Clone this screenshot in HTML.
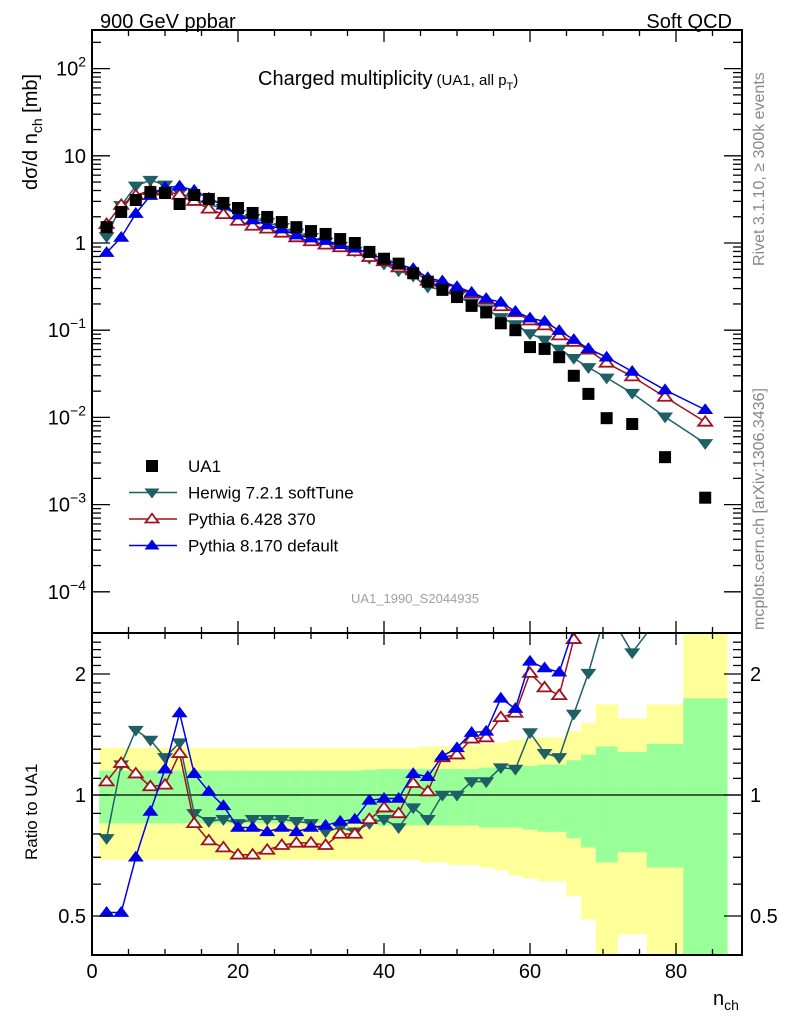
<!DOCTYPE html>
<html><head><meta charset="utf-8"><style>
html,body{margin:0;padding:0;background:#fff;width:786px;height:1024px;overflow:hidden;}
svg{display:block;font-family:"Liberation Sans",sans-serif;}
</style></head><body>
<svg id="chart" width="786" height="1024" viewBox="0 0 786 1024" xmlns="http://www.w3.org/2000/svg">
<defs>
<clipPath id="cm"><rect x="92" y="30" width="650" height="603"/></clipPath>
<clipPath id="cr"><rect x="92" y="633" width="650" height="322"/></clipPath>
</defs>
<text x="100" y="28" font-size="20">900 GeV ppbar</text>
<text x="732" y="28" font-size="20" text-anchor="end">Soft QCD</text>
<text x="258" y="85" font-size="20">Charged multiplicity<tspan font-size="15" dx="4">(UA1, all p</tspan><tspan font-size="11" dy="5">T</tspan><tspan font-size="15" dy="-5">)</tspan></text>
<text x="415" y="603" font-size="13" fill="#a0a0a0" text-anchor="middle">UA1_1990_S2044935</text>
<text transform="translate(764,266) rotate(-90)" font-size="16" fill="#888">Rivet 3.1.10, ≥ 300k events</text>
<text transform="translate(764,630) rotate(-90)" font-size="16" fill="#888">mcplots.cern.ch [arXiv:1306.3436]</text>
<text transform="translate(37,190) rotate(-90)" font-size="20">dσ/d n<tspan font-size="14" dy="5">ch</tspan><tspan dy="-5"> [mb]</tspan></text>
<text transform="translate(37,860) rotate(-90)" font-size="17">Ratio to UA1</text>
<text x="713" y="1005" font-size="20">n<tspan font-size="14" dy="5">ch</tspan></text>
<g id="gBand" clip-path="url(#cr)"></g>
<g id="gRatio" clip-path="url(#cr)"></g>
<g id="gMain" clip-path="url(#cm)"></g>
<g id="gAxes"></g>
<g id="gLegend"></g>
</svg>
<script>
const nch=[2,4,6,8,10,12,14,16,18,20,22,24,26,28,30,32,34,36,38,40,42,44,46,48,50,52,54,56,58,60,62,64,66,68,70.5,74,78.5,84];
const binEdges=[1,3,5,7,9,11,13,15,17,19,21,23,25,27,29,31,33,35,37,39,41,43,45,47,49,51,53,55,57,59,61,63,65,67,69,72,76,81,87];
const ua1=[1.52,2.27,3.11,3.84,3.74,2.8,3.55,3.2,2.88,2.52,2.21,1.99,1.74,1.52,1.37,1.27,1.11,1.0,0.79,0.66,0.58,0.45,0.36,0.29,0.24,0.19,0.16,0.12,0.1,0.064,0.061,0.049,0.030,0.0186,0.0098,0.0084,0.0035,0.0012];
const greenErr=[0.15,0.15,0.15,0.15,0.15,0.15,0.15,0.15,0.15,0.15,0.15,0.15,0.15,0.15,0.15,0.15,0.15,0.15,0.155,0.16,0.16,0.16,0.16,0.16,0.16,0.16,0.17,0.17,0.17,0.18,0.19,0.19,0.22,0.26,0.32,0.28,0.34,0.74];
const yellowErr=[0.31,0.31,0.31,0.31,0.31,0.31,0.31,0.31,0.31,0.31,0.31,0.31,0.31,0.31,0.31,0.31,0.31,0.31,0.31,0.31,0.31,0.31,0.32,0.32,0.33,0.33,0.34,0.35,0.37,0.38,0.39,0.39,0.44,0.51,0.68,0.55,0.68,1.6];
const herwigRatio=[0.78,1.19,1.45,1.37,1.24,1.35,0.90,0.86,0.87,0.85,0.87,0.87,0.87,0.86,0.85,0.81,0.83,0.81,0.85,0.87,0.83,0.93,0.87,1.0,1.0,1.08,1.08,1.17,1.16,1.43,1.27,1.24,1.59,2.01,2.9,2.26,2.9,4.2];
const py6Ratio=[1.08,1.20,1.13,1.05,1.06,1.27,0.85,0.77,0.74,0.71,0.71,0.73,0.75,0.76,0.76,0.75,0.80,0.80,0.87,0.93,0.90,1.07,1.02,1.24,1.26,1.38,1.39,1.56,1.60,2.01,1.85,1.77,2.44,3.2,4.3,3.5,4.9,7.4];
const py8Ratio=[0.51,0.51,0.70,0.91,1.16,1.60,1.13,1.02,0.94,0.83,0.83,0.81,0.83,0.81,0.83,0.84,0.86,0.87,0.97,0.98,0.98,1.13,1.11,1.25,1.31,1.43,1.44,1.74,1.64,2.15,2.07,2.02,2.6,3.3,5.0,4.0,5.9,10.2];
const xTicks=[0,20,40,60,80];
const mainDecades=[-4,-3,-2,-1,0,1,2];
const ratioTicks=[0.5,1,2];

const NS="http://www.w3.org/2000/svg";
const X=n=>92+7.3*n;
const Y=v=>243-87.2*Math.log10(v);
const R=r=>795-401.95*Math.log10(Math.max(r,1e-3));
function mk(tag,attrs,parent){const e=document.createElementNS(NS,tag);for(const k in attrs)e.setAttribute(k,attrs[k]);parent.appendChild(e);return e;}
const gBand=document.getElementById('gBand'),gRatio=document.getElementById('gRatio'),gMain=document.getElementById('gMain'),gAxes=document.getElementById('gAxes'),gLeg=document.getElementById('gLegend');

nch.forEach((n,i)=>{
  const x0=X(binEdges[i]),x1=X(binEdges[i+1]);
  const yl=mk('rect',{x:x0,y:R(1+yellowErr[i]),width:x1-x0+0.5,height:R(Math.max(1-yellowErr[i],0.01))-R(1+yellowErr[i]),fill:'#ffff99'},gBand);
  
  
  const gr=mk('rect',{x:x0,y:R(1+greenErr[i]),width:x1-x0+0.5,height:R(1-greenErr[i])-R(1+greenErr[i]),fill:'#99ff99'},gBand);
  
  
});
const one=mk('line',{x1:92,x2:742,y1:R(1),y2:R(1),stroke:'#000','stroke-width':1.3},gBand);



function tri(cx,cy,down,s){const h=s*0.9;return down?`${cx-s},${cy-h*0.6} ${cx+s},${cy-h*0.6} ${cx},${cy+h*0.9}`:`${cx-s},${cy+h*0.6} ${cx+s},${cy+h*0.6} ${cx},${cy-h*0.9}`;}
const series=[
 {name:'herwig',ratio:herwigRatio,color:'#1f5f66',down:true,fill:true},
 {name:'pythia6',ratio:py6Ratio,color:'#a0101e',down:false,fill:false},
 {name:'pythia8',ratio:py8Ratio,color:'#0000e6',down:false,fill:true}
];
series.forEach(s=>{
  [[gMain,(i)=>Y(s.ratio[i]*ua1[i])],[gRatio,(i)=>R(s.ratio[i])]].forEach(([g,fy],k)=>{
    const pts=nch.map((n,i)=>X(n)+','+fy(i)).join(' ');
    const pl=mk('polyline',{points:pts,fill:'none',stroke:s.color,'stroke-width':1.5},g);
    
    
    nch.forEach((n,i)=>{
      const p=mk('polygon',{points:tri(X(n),fy(i),s.down,7),fill:s.fill?s.color:'#fff',stroke:s.color,'stroke-width':s.fill?1:1.8},g);
      
      
    });
  });
});
nch.forEach((n,i)=>{
  const r=mk('rect',{x:X(n)-6,y:Y(ua1[i])-6,width:12,height:12,fill:'#000'},gMain);
  
  
});

[[30,603],[633,322]].forEach(([y,h],k)=>{
  const f=mk('rect',{x:92,y:y,width:650,height:h,fill:'none',stroke:'#000','stroke-width':2},gAxes);
  
  
});
for(let n=0;n<=85;n+=5){
  const L=(n%20===0)?12:6;
  [[633,-1],[955,-1],[633,1],[30,1]].forEach(([y,d])=>{
    const t=mk('line',{x1:X(n),x2:X(n),y1:y,y2:y+d*L,stroke:'#000','stroke-width':1.3},gAxes);
    
    
  });
}
xTicks.forEach(n=>{
  const t=mk('text',{x:X(n),y:978,'font-size':20,'text-anchor':'middle'},gAxes);t.textContent=n;
  
  
});
mainDecades.forEach(d=>{
  for(let m=1;m<10;m++){
    const v=m*Math.pow(10,d);const y=Y(v);if(y<31||y>632)continue;
    const L=m===1?18:9;
    [[92,1],[742,-1]].forEach(([x,s])=>{
      const t=mk('line',{x1:x,x2:x+s*L,y1:y,y2:y,stroke:'#000','stroke-width':1.3},gAxes);
      
      
    });
  }
  const t=mk('text',{x:86,y:Y(Math.pow(10,d))+7,'font-size':20,'text-anchor':'end'},gAxes);
  
  
  if(d===0)t.textContent='1';else if(d===1)t.textContent='10';
  else{t.textContent='10';const sp=document.createElementNS(NS,'tspan');sp.setAttribute('font-size',14);sp.setAttribute('dy',-9);sp.textContent=(d<0?'−':'')+Math.abs(d);t.appendChild(sp);}
});
for(let r=0.4;r<=2.5;r+=0.1){
  const y=R(r);if(y<634||y>954)continue;
  const major=Math.abs(r-0.5)<1e-6||Math.abs(r-1)<1e-6||Math.abs(r-2)<1e-6;
  [[92,1],[742,-1]].forEach(([x,s])=>{
    const t=mk('line',{x1:x,x2:x+s*(major?18:9),y1:y,y2:y,stroke:'#000','stroke-width':1.3},gAxes);
    
    
  });
}
ratioTicks.forEach(r=>{
  [[86,'end'],[750,'start']].forEach(([x,a])=>{
    const t=mk('text',{x:x,y:R(r)+7,'font-size':20,'text-anchor':a},gAxes);t.textContent=r;
    
    
  });
});
const legNames=['UA1','Herwig 7.2.1 softTune','Pythia 6.428 370','Pythia 8.170 default'];
legNames.forEach((nm,i)=>{
  const y=466+i*26.5;
  if(i===0){const r=mk('rect',{x:146,y:y-6,width:12,height:12,fill:'#000'},gLeg);
    
    }
  else{const s=series[i-1];
    const l=mk('line',{x1:129,x2:177,y1:y,y2:y,stroke:s.color,'stroke-width':1.5},gLeg);
    
    
    const p=mk('polygon',{points:tri(152,y,s.down,6.5),fill:s.fill?s.color:'#fff',stroke:s.color,'stroke-width':s.fill?1:1.8},gLeg);
    
    }
  const t=mk('text',{x:188,y:y+6,'font-size':17},gLeg);t.textContent=nm;
  
  
});
</script>
</body></html>
